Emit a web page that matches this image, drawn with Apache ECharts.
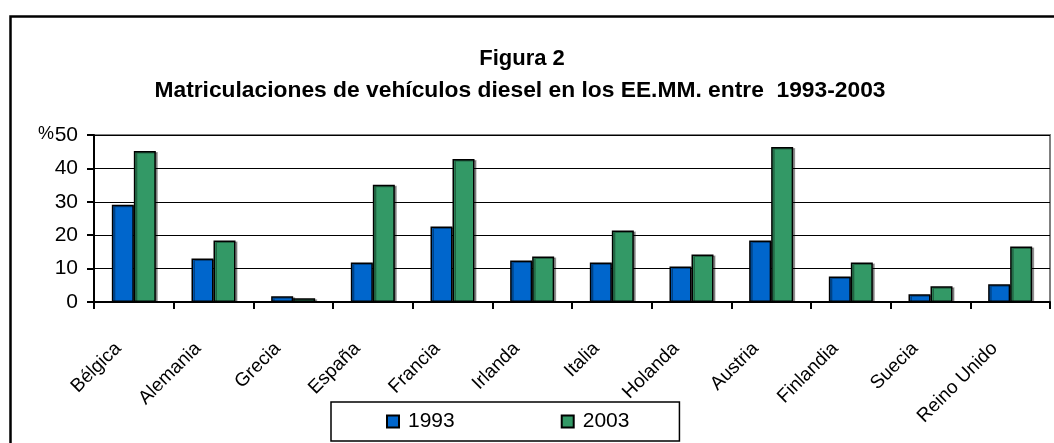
<!DOCTYPE html>
<html>
<head>
<meta charset="utf-8">
<script src="https://cdn.jsdelivr.net/npm/echarts@6/dist/echarts.min.js"></script>
<style>html,body{margin:0;padding:0;background:#fff;}#c{width:1054px;height:443px;}</style>
</head>
<body>
<div id="c"></div>
<script>
const categories = ['Bélgica','Alemania','Grecia','España','Francia','Irlanda','Italia','Holanda','Austria','Finlandia','Suecia','Reino Unido'];
const values1993 = [29.1, 13.0, 1.7, 11.8, 22.6, 12.4, 11.8, 10.6, 18.4, 7.6, 2.3, 5.3];
const values2003 = [45.2, 18.4, 1.1, 35.1, 42.8, 13.6, 21.4, 14.2, 46.4, 11.8, 4.7, 16.6];
const seriesNames = ['1993', '2003'];
const yTicks = [0, 10, 20, 30, 40, 50];
const titleText = 'Figura 2';
const subtitleText = 'Matriculaciones de vehículos diesel en los EE.MM. entre  1993-2003';

const FONT = '"Liberation Sans", Arial, sans-serif';
const chart = echarts.init(document.getElementById('c'), null, {renderer: 'canvas'});
const barStyle = (color) => ({
  color: color, borderColor: '#000', borderWidth: 1.5,
  shadowColor: 'rgba(0,0,0,0.35)', shadowOffsetX: 2, shadowOffsetY: 1, shadowBlur: 0
});
chart.setOption({
  animation: false,
  backgroundColor: '#fff',
  title: [
    {text: titleText, left: 517, top: 43, textAlign: 'center',
     textStyle: {fontFamily: FONT, fontSize: 22, fontWeight: 'bold', color: '#000'}},
    {text: subtitleText, left: 515, top: 74, textAlign: 'center',
     textStyle: {fontFamily: FONT, fontSize: 22.8, fontWeight: 'bold', color: '#000'}}
  ],
  graphic: [
    {type: 'rect', left: 8, top: 14, shape: {x: 0, y: 0, width: 1100, height: 500},
     style: {fill: 'none', stroke: '#000', lineWidth: 2.5}, z: 100},
    {type: 'text', left: 38, top: 125, style: {text: '%', font: '18px ' + FONT, fill: '#000'}}
  ],
  legend: {
    data: seriesNames, left: 331, top: 402,
    padding: [9, 50, 9, 55], itemGap: 106, itemWidth: 12, itemHeight: 12,
    borderColor: '#000', borderWidth: 1.5, icon: 'rect',
    textStyle: {fontFamily: FONT, fontSize: 21, color: '#000', padding: [0, 0, 0, 4]}
  },
  grid: {left: 94, right: 4, top: 135, bottom: 141, show: true, borderColor: '#808080', borderWidth: 2},
  xAxis: {
    type: 'category', data: categories,
    axisLine: {lineStyle: {color: '#000', width: 2}},
    axisTick: {show: true, length: 7, lineStyle: {color: '#000', width: 2}},
    axisLabel: {rotate: 45, margin: 28, interval: 0, padding: [0, 22, 0, 0],
      fontFamily: FONT, fontSize: 19, color: '#000'}
  },
  yAxis: {
    type: 'value', min: yTicks[0], max: yTicks[yTicks.length - 1], interval: 10,
    axisLine: {show: true, lineStyle: {color: '#000', width: 2}},
    axisTick: {show: true, length: 7, lineStyle: {color: '#000', width: 2}},
    axisLabel: {margin: 16, fontFamily: FONT, fontSize: 21, color: '#000'},
    splitLine: {lineStyle: {color: '#000', width: 1}}
  },
  series: [
    {name: seriesNames[0], type: 'bar', data: values1993, barWidth: 22, barGap: '0%', itemStyle: barStyle('#0066CC')},
    {name: seriesNames[1], type: 'bar', data: values2003, barWidth: 22, barGap: '0%', itemStyle: barStyle('#339966')}
  ]
});
</script>
</body>
</html>
